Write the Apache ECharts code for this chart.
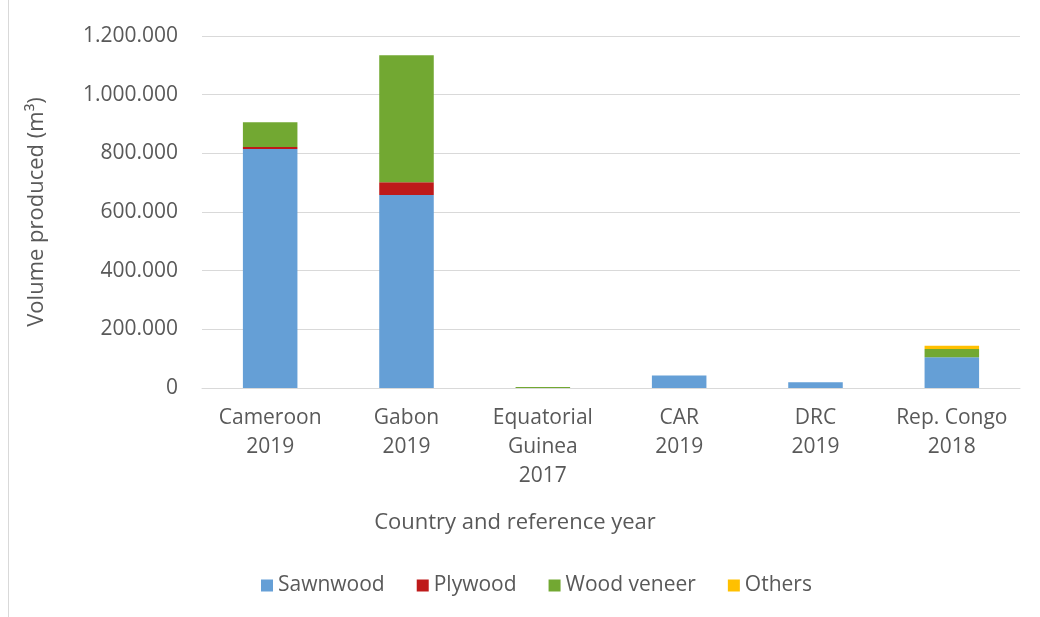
<!DOCTYPE html>
<html>
<head>
<meta charset="utf-8">
<script src="https://cdn.jsdelivr.net/npm/echarts@6/dist/echarts.min.js"></script>
<style>
  html, body { margin: 0; padding: 0; background: #fff; }
  #frame { position: absolute; left: 8px; top: 0; width: 1032px; height: 617px; border-left: 1px solid #d9d9d9; }
  #chart { position: absolute; left: 0; top: 0; width: 1040px; height: 617px; }
</style>
</head>
<body>
<div id="frame"></div>
<div id="chart"></div>
<script>
  // values in m3
  const countries = ["Cameroon\n2019", "Gabon\n2019", "Equatorial\nGuinea\n2017", "CAR\n2019", "DRC\n2019", "Rep. Congo\n2018"];
  const sawnwood = [815000, 658000, 0, 43000, 20000, 105000];
  const plywood = [7000, 43000, 0, 0, 0, 0];
  const woodVeneer = [84000, 433000, 3000, 0, 0, 28000];
  const others = [0, 0, 0, 0, 0, 11000];

  const textColor = "#595959";
  const font = "'Open Sans', 'Liberation Sans', sans-serif";

  function formatThousands(v) {
    return String(v).replace(/\B(?=(\d{3})+(?!\d))/g, ".");
  }

  const chart = echarts.init(document.getElementById("chart"));

  const seriesDefs = [
    { name: "Sawnwood", data: sawnwood, color: "#659fd6" },
    { name: "Plywood", data: plywood, color: "#be1a1a" },
    { name: "Wood veneer", data: woodVeneer, color: "#72a832" },
    { name: "Others", data: others, color: "#ffc000" }
  ];

  chart.setOption({
    animation: false,
    textStyle: { fontFamily: font },
    title: {
      text: "Country and reference year",
      left: 510,
      top: 507,
      textAlign: "center",
      textStyle: { color: textColor, fontSize: 22, fontWeight: "normal", fontFamily: font }
    },
    legend: {
      top: 570,
      left: 256,
      itemWidth: 12,
      itemHeight: 12,
      itemGap: 32,
      icon: "rect",
      textStyle: { color: textColor, fontSize: 21, fontFamily: font },
      data: seriesDefs.map((s) => s.name)
    },
    grid: { left: 202, right: 20, top: 36, bottom: 229 },
    xAxis: {
      type: "category",
      data: countries,
      axisLine: { lineStyle: { color: "#d9d9d9", width: 1 } },
      axisTick: { show: false },
      axisLabel: {
        interval: 0,
        color: textColor,
        fontSize: 21,
        lineHeight: 29,
        margin: 16,
        fontFamily: font,
        verticalAlign: "top"
      }
    },
    yAxis: {
      type: "value",
      min: 0,
      max: 1200000,
      interval: 200000,
      name: "Volume produced (m³)",
      nameLocation: "middle",
      nameGap: 154,
      nameRotate: 90,
      nameTextStyle: { color: textColor, fontSize: 22, fontFamily: font },
      axisLine: { show: false },
      axisTick: { show: false },
      splitLine: { lineStyle: { color: "#d9d9d9", width: 1 } },
      axisLabel: {
        color: textColor,
        fontSize: 21,
        margin: 24,
        fontFamily: font,
        formatter: formatThousands
      }
    },
    series: seriesDefs.map((s) => ({
      name: s.name,
      type: "bar",
      stack: "total",
      barWidth: "40%",
      itemStyle: { color: s.color },
      data: s.data
    }))
  });
</script>
</body>
</html>
